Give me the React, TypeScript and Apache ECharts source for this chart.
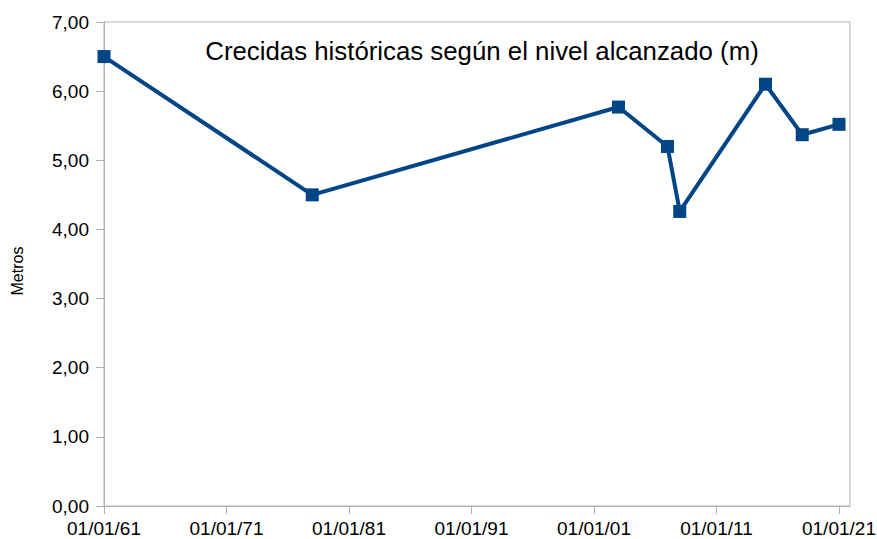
import React, { useEffect, useRef } from "react";
import * as echarts from "echarts";

const floodDates = ["1961-01-01", "1978-01-01", "2003-01-01", "2007-01-01", "2008-01-01", "2015-01-01", "2018-01-01", "2021-01-01"];
const floodLevels = [6.5, 4.5, 5.77, 5.2, 4.26, 6.1, 5.37, 5.52];
const tickYears = [1961, 1971, 1981, 1991, 2001, 2011, 2021];
const yTicks = [0, 1, 2, 3, 4, 5, 6, 7];

const TITLE = "Crecidas históricas según el nivel alcanzado (m)";
const Y_NAME = "Metros";
const FONT = "Liberation Sans, Arial, sans-serif";
const LINE_COLOR = "#004586";
const AXIS_COLOR = "#b3b3b3";

function toDecimalYear(iso: string): number {
  const [y, m, d] = iso.split("-").map(Number);
  const start = Date.UTC(y, 0, 1);
  const end = Date.UTC(y + 1, 0, 1);
  const t = Date.UTC(y, m - 1, d);
  return y + (t - start) / (end - start);
}

export default function App() {
  const ref = useRef<HTMLDivElement>(null);

  useEffect(() => {
    if (!ref.current) return;
    const chart = echarts.init(ref.current, null, { renderer: "svg" });
    const data = floodDates.map((d, i) => [toDecimalYear(d), floodLevels[i]]);
    chart.setOption({
      animation: false,
      backgroundColor: "#ffffff",
      textStyle: { fontFamily: FONT },
      title: {
        text: TITLE,
        left: 477,
        top: 33,
        textAlign: "center",
        textStyle: { fontFamily: FONT, fontSize: 25.8, fontWeight: "normal", color: "#000000" },
      },
      grid: {
        left: 104,
        right: 27,
        top: 22,
        bottom: 33,
        show: true,
        borderColor: AXIS_COLOR,
        borderWidth: 1,
        backgroundColor: "transparent",
        outerBoundsMode: "none",
      },
      xAxis: {
        type: "value",
        min: 1961,
        max: 2021.9,
        splitLine: { show: false },
        axisLine: { show: true, lineStyle: { color: AXIS_COLOR, width: 1 } },
        axisTick: { show: true, length: 8, inside: false, customValues: tickYears, lineStyle: { color: AXIS_COLOR } },
        axisLabel: {
          customValues: tickYears,
          margin: 13,
          fontSize: 19,
          fontFamily: FONT,
          color: "#000000",
          formatter: (v: number) => "01/01/" + String(Math.round(v)).slice(2),
        },
      },
      yAxis: {
        type: "value",
        min: 0,
        max: 7,
        interval: 1,
        splitLine: { show: false },
        axisLine: { show: true, lineStyle: { color: AXIS_COLOR, width: 1 } },
        axisTick: { show: true, length: 8, inside: false, customValues: yTicks, lineStyle: { color: AXIS_COLOR } },
        axisLabel: {
          margin: 15,
          fontSize: 19,
          fontFamily: FONT,
          color: "#000000",
          formatter: (v: number) => v.toFixed(2).replace(".", ","),
        },
      },
      graphic: [
        {
          type: "text",
          x: 17,
          y: 271,
          rotation: Math.PI / 2,
          style: {
            text: Y_NAME,
            font: "16px 'Liberation Sans', Arial, sans-serif",
            fontFamily: FONT,
            fontSize: 16,
            fill: "#000000",
            align: "center",
            verticalAlign: "middle",
          },
        },
      ],
      series: [
        {
          type: "line",
          data,
          symbol: "rect",
          symbolSize: 13,
          showAllSymbol: true,
          lineStyle: { color: LINE_COLOR, width: 4 },
          itemStyle: { color: LINE_COLOR },
          emphasis: { disabled: true },
        },
      ],
    });
    return () => chart.dispose();
  }, []);

  return (
    <div
      ref={ref}
      style={{ position: "fixed", left: 0, top: 0, width: 877, height: 539 }}
    />
  );
}
